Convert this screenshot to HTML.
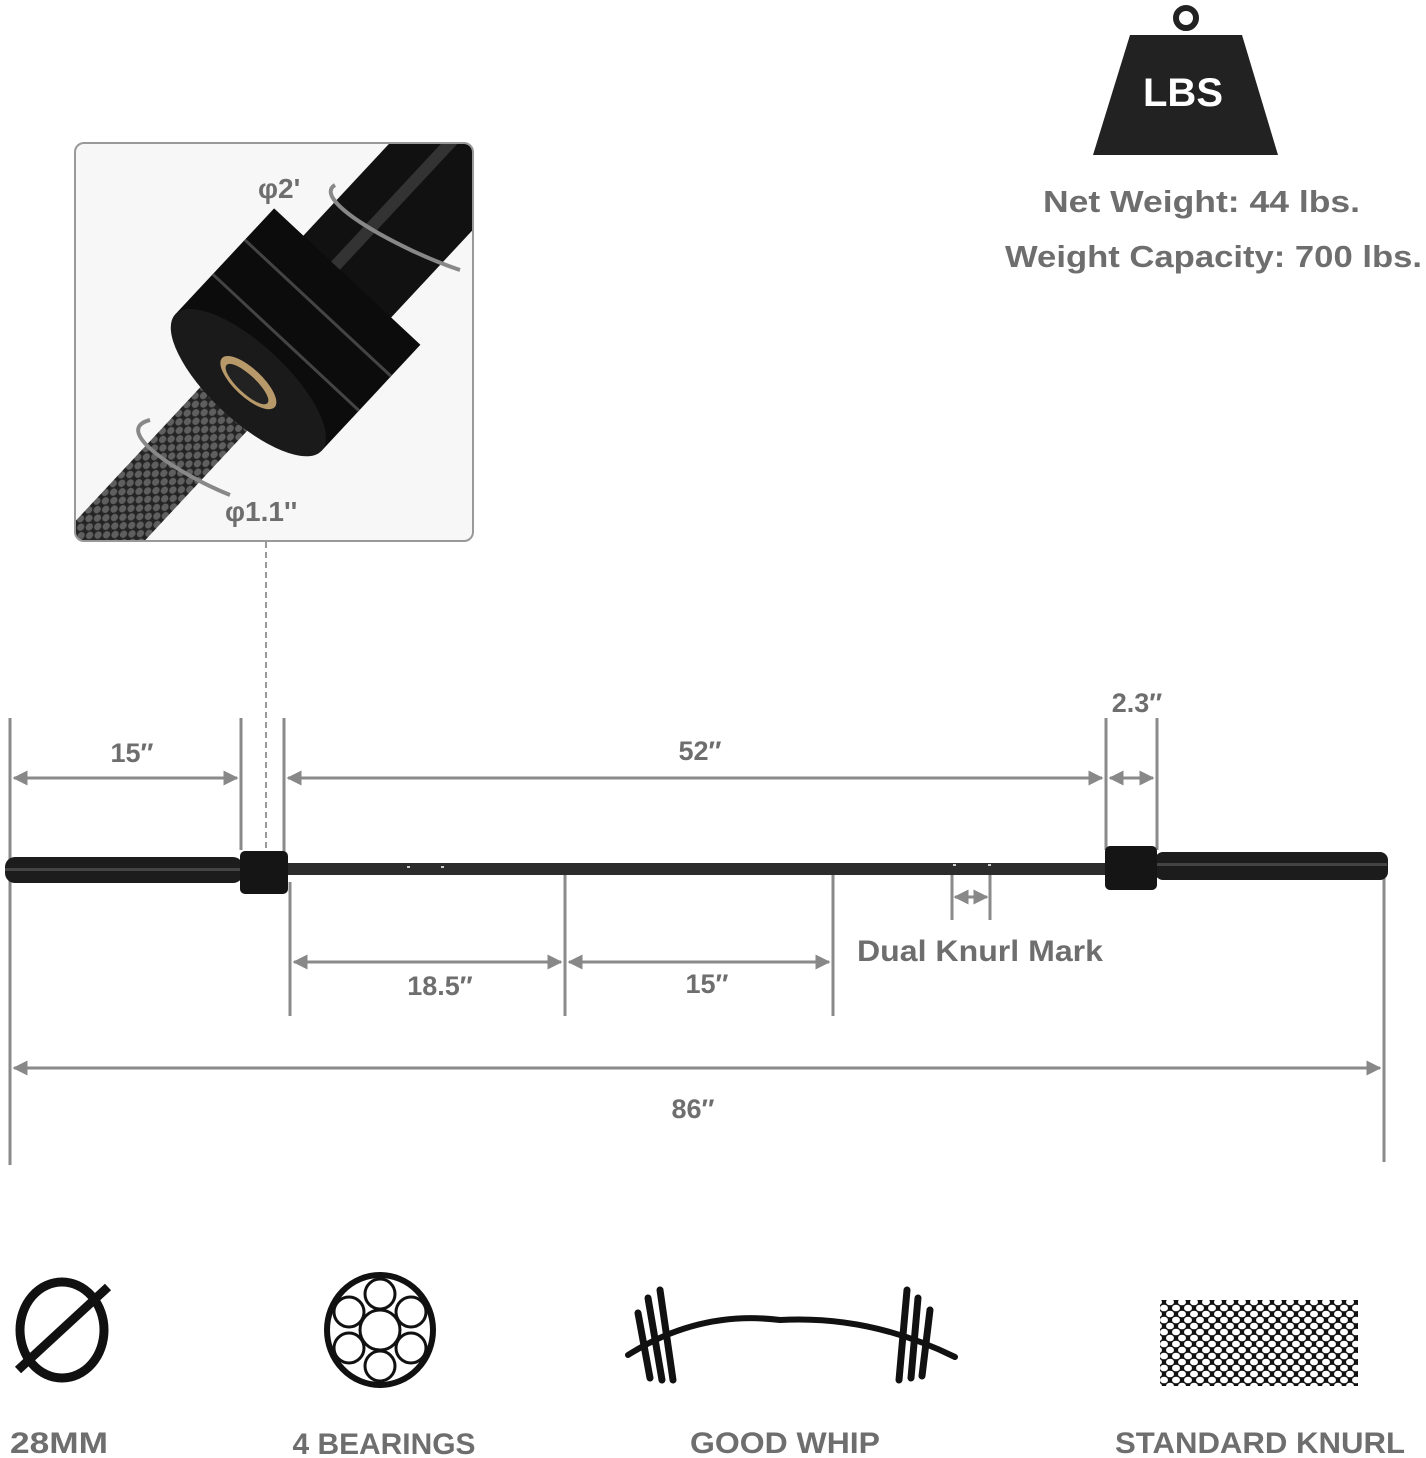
<!DOCTYPE html>
<html><head><meta charset="utf-8"><style>
html,body{margin:0;padding:0;background:#fff;}
svg{display:block}
text{font-family:"Liberation Sans",sans-serif;font-weight:bold;fill:#6e6e6e}
</style></head><body>
<svg width="1426" height="1458" viewBox="0 0 1426 1458" xmlns="http://www.w3.org/2000/svg">
<defs>
<marker id="a" viewBox="0 0 10 10" refX="9" refY="5" markerWidth="5" markerHeight="5" orient="auto-start-reverse"><path d="M0,0 L10,5 L0,10 z" fill="#888"/></marker>
<clipPath id="ic"><rect x="76" y="144" width="396" height="396" rx="8"/></clipPath>
<pattern id="kn" width="12" height="12" patternUnits="userSpaceOnUse"><rect width="12" height="12" fill="#111"/><ellipse cx="6" cy="6" rx="4" ry="3.3" fill="#fff"/><ellipse cx="0" cy="0" rx="4" ry="3.3" fill="#fff"/><ellipse cx="12" cy="0" rx="4" ry="3.3" fill="#fff"/><ellipse cx="0" cy="12" rx="4" ry="3.3" fill="#fff"/><ellipse cx="12" cy="12" rx="4" ry="3.3" fill="#fff"/></pattern>
</defs>

<!-- weight icon -->
<circle cx="1186" cy="18" r="10" fill="none" stroke="#222" stroke-width="6"/>
<path d="M1130,35 L1242,35 L1278,155 L1093,155 Z" fill="#222"/>
<text x="1183" y="106" font-size="40" text-anchor="middle" style="fill:#fff">LBS</text>
<text x="1043" y="212" font-size="31" textLength="317" lengthAdjust="spacingAndGlyphs">Net Weight: 44 lbs.</text>
<text x="1005" y="267" font-size="31" textLength="417" lengthAdjust="spacingAndGlyphs">Weight Capacity: 700 lbs.</text>

<!-- inset -->
<rect x="75" y="143" width="398" height="398" rx="9" fill="#f7f7f7" stroke="#999" stroke-width="2"/>
<g clip-path="url(#ic)">
<g transform="translate(262,368) rotate(-47)">
<rect x="-320" y="-32" width="320" height="64" fill="#2a2a2a"/>
<rect x="-320" y="-32" width="320" height="64" fill="url(#kn)" opacity="0.25"/>
<rect x="60" y="-60" width="340" height="120" fill="#111"/>
<rect x="60" y="-22" width="340" height="12" fill="#555" opacity="0.5"/>
<rect x="-20" y="-100" width="145" height="200" fill="#0c0c0c"/>
<ellipse cx="-20" cy="0" rx="38" ry="100" fill="#1a1a1a"/>
<line x1="35" y1="-100" x2="35" y2="100" stroke="#444" stroke-width="3"/>
<line x1="82" y1="-100" x2="82" y2="100" stroke="#444" stroke-width="3"/>
<ellipse cx="-20" cy="0" rx="14" ry="36" fill="#b89a6a"/>
<ellipse cx="-22" cy="0" rx="9" ry="28" fill="#222"/>
</g>
</g>
<path d="M335,185 C310,200 400,250 460,270" fill="none" stroke="#888" stroke-width="4"/>
<path d="M150,420 C110,430 180,475 230,495" fill="none" stroke="#888" stroke-width="4"/>
<text x="258" y="198" font-size="28">φ2'</text>
<text x="225" y="521" font-size="28">φ1.1''</text>

<!-- dashed line -->
<line x1="266" y1="542" x2="266" y2="848" stroke="#999" stroke-width="2" stroke-dasharray="6,4"/>

<!-- extension lines -->
<g stroke="#8a8a8a" stroke-width="3">
<line x1="10" y1="718" x2="10" y2="1165"/>
<line x1="241" y1="718" x2="241" y2="850"/>
<line x1="284" y1="718" x2="284" y2="860"/>
<line x1="1106" y1="718" x2="1106" y2="850"/>
<line x1="1157" y1="718" x2="1157" y2="850"/>
<line x1="1384" y1="860" x2="1384" y2="1162"/>
<line x1="290" y1="882" x2="290" y2="1016"/>
<line x1="565" y1="870" x2="565" y2="1016"/>
<line x1="833" y1="870" x2="833" y2="1016"/>
<line x1="952" y1="875" x2="952" y2="920"/>
<line x1="990" y1="875" x2="990" y2="920"/>
</g>
<g stroke="#8a8a8a" stroke-width="3" marker-start="url(#a)" marker-end="url(#a)">
<line x1="14" y1="778" x2="237" y2="778"/>
<line x1="288" y1="778" x2="1102" y2="778"/>
<line x1="1110" y1="778" x2="1153" y2="778"/>
<line x1="294" y1="962" x2="561" y2="962"/>
<line x1="569" y1="962" x2="829" y2="962"/>
<line x1="955" y1="897" x2="987" y2="897"/>
<line x1="14" y1="1068" x2="1380" y2="1068"/>
</g>
<text x="132" y="762" font-size="27" text-anchor="middle">15″</text>
<text x="700" y="760" font-size="27" text-anchor="middle">52″</text>
<text x="1137" y="712" font-size="27" text-anchor="middle">2.3″</text>
<text x="440" y="995" font-size="27" text-anchor="middle">18.5″</text>
<text x="707" y="993" font-size="27" text-anchor="middle">15″</text>
<text x="857" y="961" font-size="30" textLength="246" lengthAdjust="spacingAndGlyphs">Dual Knurl Mark</text>
<text x="693" y="1118" font-size="27" text-anchor="middle">86″</text>

<!-- bar -->
<rect x="5" y="857" width="238" height="26" rx="10" fill="#1c1c1c"/>
<rect x="5" y="868" width="236" height="3" fill="#444"/>
<rect x="286" y="863" width="822" height="12" fill="#2b2b2b"/>
<rect x="1155" y="852" width="233" height="28" rx="8" fill="#1c1c1c"/>
<rect x="1157" y="863" width="230" height="3" fill="#444"/>
<rect x="240" y="851" width="48" height="43" rx="5" fill="#151515"/>
<rect x="1105" y="846" width="52" height="44" rx="5" fill="#151515"/>
<g fill="#ccc"><rect x="407" y="866" width="3" height="2"/><rect x="441" y="866" width="3" height="2"/><rect x="953" y="864" width="3" height="2"/><rect x="988" y="864" width="3" height="2"/></g>

<!-- icons -->
<ellipse cx="62" cy="1330" rx="42" ry="48" fill="none" stroke="#111" stroke-width="9"/>
<line x1="18" y1="1370" x2="108" y2="1287" stroke="#111" stroke-width="9"/>
<g fill="none" stroke="#111" stroke-width="3">
<ellipse cx="380" cy="1330" rx="53" ry="55" stroke-width="6"/>
<circle cx="380" cy="1330" r="20"/>
<circle cx="380" cy="1294" r="15"/><circle cx="380" cy="1366" r="15"/>
<circle cx="349" cy="1312" r="15"/><circle cx="411" cy="1312" r="15"/>
<circle cx="349" cy="1348" r="15"/><circle cx="411" cy="1348" r="15"/>
</g>
<g stroke="#111" stroke-linecap="round" fill="none">
<path d="M628,1355 Q700,1310 780,1320 Q870,1315 955,1357" stroke-width="6"/>
<line x1="638" y1="1313" x2="650" y2="1378" stroke-width="7"/>
<line x1="648" y1="1298" x2="662" y2="1380" stroke-width="7"/>
<line x1="660" y1="1290" x2="673" y2="1380" stroke-width="7"/>
<line x1="899" y1="1380" x2="907" y2="1290" stroke-width="7"/>
<line x1="911" y1="1378" x2="918" y2="1298" stroke-width="7"/>
<line x1="922" y1="1376" x2="930" y2="1310" stroke-width="7"/>
</g>
<rect x="1160" y="1300" width="198" height="86" fill="url(#kn)"/>
<g style="font-family:'Liberation Sans Narrow','Liberation Sans',sans-serif" font-size="30">
<text x="59" y="1453" text-anchor="middle" textLength="98" lengthAdjust="spacingAndGlyphs">28MM</text>
<text x="384" y="1454" text-anchor="middle" textLength="183" lengthAdjust="spacingAndGlyphs">4 BEARINGS</text>
<text x="785" y="1453" text-anchor="middle" textLength="190" lengthAdjust="spacingAndGlyphs">GOOD WHIP</text>
<text x="1260" y="1453" text-anchor="middle" textLength="290" lengthAdjust="spacingAndGlyphs">STANDARD KNURL</text>
</g>
</svg>
</body></html>
